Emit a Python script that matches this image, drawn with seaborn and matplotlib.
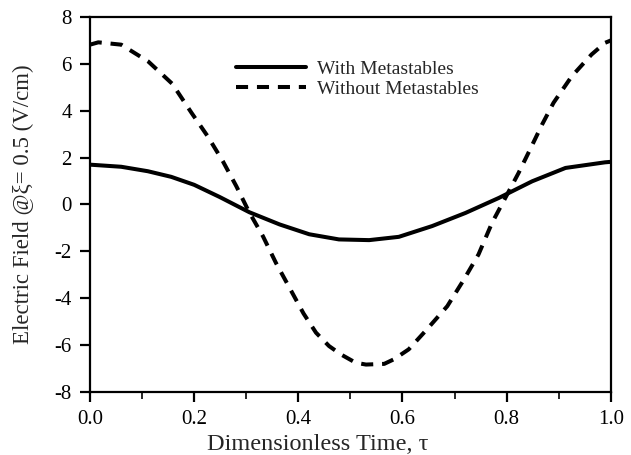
import matplotlib
matplotlib.use("Agg")
import matplotlib.pyplot as plt
from matplotlib.ticker import MultipleLocator
from matplotlib.lines import Line2D
import seaborn as sns
import pandas as pd

# Data
tau_without = [0.0, 0.016, 0.06, 0.112, 0.158, 0.195, 0.226, 0.255, 0.281, 0.305,
               0.332, 0.357, 0.383, 0.41, 0.434, 0.459, 0.482, 0.51, 0.53, 0.565,
               0.584, 0.612, 0.644, 0.686, 0.718, 0.746, 0.772, 0.801, 0.823, 0.845,
               0.868, 0.89, 0.925, 0.963, 0.989, 1.0]
field_without = [6.82, 6.92, 6.82, 6.1, 5.15, 3.91, 2.91, 1.85, 0.78, -0.3,
                 -1.35, -2.49, -3.55, -4.65, -5.47, -6.04, -6.4, -6.75, -6.83, -6.8,
                 -6.6, -6.18, -5.40, -4.34, -3.20, -2.13, -0.78, 0.43, 1.35, 2.35,
                 3.41, 4.34, 5.47, 6.40, 6.9, 7.0]

tau_with = [0.0, 0.06, 0.111, 0.156, 0.2, 0.249, 0.306, 0.364, 0.421, 0.478,
            0.536, 0.593, 0.657, 0.721, 0.785, 0.849, 0.913, 0.989, 1.0]
field_with = [1.70, 1.61, 1.42, 1.18, 0.84, 0.32, -0.33, -0.85, -1.27, -1.49,
              -1.52, -1.38, -0.92, -0.36, 0.28, 0.99, 1.56, 1.80, 1.82]

labels = ["With Metastables", "Without Metastables"]
x_ticks = [0.0, 0.2, 0.4, 0.6, 0.8, 1.0]
y_ticks = [-8, -6, -4, -2, 0, 2, 4, 6, 8]

df = pd.concat([
    pd.DataFrame({"tau": tau_with, "E": field_with, "case": labels[0]}),
    pd.DataFrame({"tau": tau_without, "E": field_without, "case": labels[1]}),
], ignore_index=True)

sns.set_style("ticks")
plt.rcParams["font.family"] = ["Liberation Serif", "DejaVu Serif"]

fig, ax = plt.subplots(figsize=(6.31, 4.55), dpi=100)
fig.subplots_adjust(left=0.1426, right=0.968, top=0.9626, bottom=0.1385)

sns.lineplot(data=df, x="tau", y="E", hue="case", style="case",
             palette={labels[0]: "black", labels[1]: "black"},
             dashes={labels[0]: "", labels[1]: (3, 2.2)},
             sort=False, estimator=None, linewidth=2.9, ax=ax, legend=False)
for ln in ax.lines:
    ln.set_solid_joinstyle("round")

ax.set_xlim(0, 1.0)
ax.set_ylim(-8, 8)
ax.set_xticks(x_ticks)
ax.set_xticklabels([f"{v:.1f}" for v in x_ticks])
ax.xaxis.set_minor_locator(MultipleLocator(0.1))
ax.set_yticks(y_ticks)
ax.set_yticklabels([str(v) for v in y_ticks])

ax.tick_params(axis="both", which="major", direction="out", length=7, width=1.6,
               labelsize=15, colors="black", pad=6)
ax.tick_params(axis="x", which="minor", direction="out", length=5, width=1.4)
for s in ax.spines.values():
    s.set_linewidth(1.6)
    s.set_color("black")

ax.set_xlabel("Dimensionless Time, τ", fontsize=17.5)
ax.xaxis.set_label_coords(0.437, -0.113)
ax.set_ylabel("Electric Field @ξ= 0.5 (V/cm)", fontsize=16.5, labelpad=15)

handles = [Line2D([], [], color="black", lw=2.9),
           Line2D([], [], color="black", lw=2.9, dashes=(3, 2.2))]
ax.legend(handles, labels, loc="upper left", bbox_to_anchor=(0.265, 0.905),
          frameon=False, fontsize=14, handlelength=3.6, handletextpad=0.6,
          labelspacing=0.1, borderaxespad=0)

fig.savefig("out.png", dpi=100)
